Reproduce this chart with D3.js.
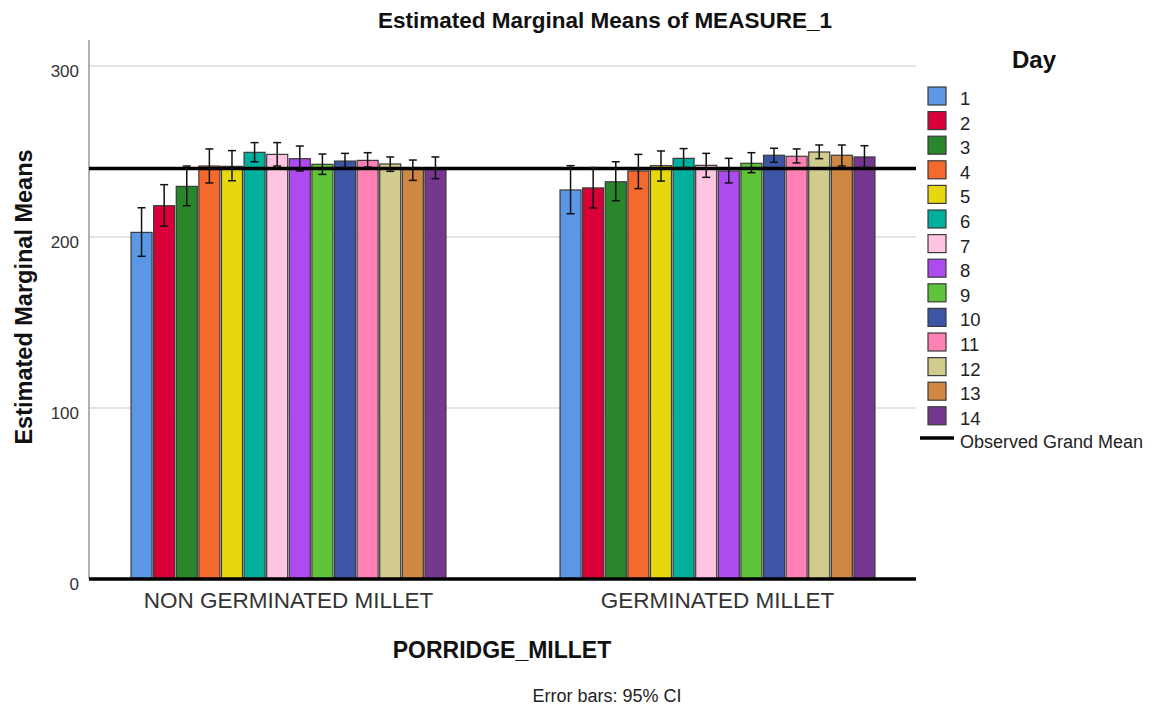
<!DOCTYPE html>
<html>
<head>
<meta charset="utf-8">
<script src="https://cdn.jsdelivr.net/npm/d3@7"></script>
<style>
  html, body { margin: 0; padding: 0; background: #fff; }
  svg { display: block; font-family: "Liberation Sans", Arial, sans-serif; }
</style>
</head>
<body>
<svg id="chart" width="1160" height="708"></svg>
<script>
// Estimated marginal means of MEASURE_1 by porridge type and day, with 95% CI
const groups = ["NON GERMINATED MILLET", "GERMINATED MILLET"];
const days = ["1","2","3","4","5","6","7","8","9","10","11","12","13","14"];
const dayColors = ["#5b97e4","#d9003a","#2a862b","#f46a2c","#e6d70f","#00b09d","#ffc4e1","#ad4af0",
                   "#60c43a","#3c56a5","#ff80b2","#d2cb8e","#cf8843","#76388e"];

const meansNonGerm = [202.7, 218.3, 229.6, 241.5, 241.3, 249.5, 248.3, 245.8, 242.5, 244.4, 244.8, 242.7, 239.6, 239.8];
const lowerNonGerm = [188.7, 206.4, 218.3, 231.6, 232.9, 244.0, 241.5, 238.6, 236.6, 240.7, 240.9, 238.4, 233.1, 234.1];
const upperNonGerm = [217.1, 230.6, 241.5, 251.5, 250.5, 255.2, 255.2, 253.2, 248.5, 248.9, 249.3, 246.8, 245.0, 246.8];

const meansGerm = [227.5, 228.7, 232.3, 238.6, 241.7, 246.0, 241.9, 238.6, 243.1, 247.8, 247.2, 249.7, 247.8, 246.8];
const lowerGerm = [213.6, 217.0, 221.2, 228.3, 232.7, 240.6, 234.9, 231.6, 237.6, 243.7, 243.3, 245.8, 241.5, 240.7];
const upperGerm = [241.7, 240.6, 244.0, 248.3, 250.3, 251.7, 248.9, 246.0, 249.3, 251.9, 251.5, 253.8, 253.8, 253.4];

const grandMean = 240.0;
const yTicks = [0, 100, 200, 300];

const meansByGroup = [meansNonGerm, meansGerm];
const lowerByGroup = [lowerNonGerm, lowerGerm];
const upperByGroup = [upperNonGerm, upperGerm];

const rows = [];
groups.forEach((g, gi) => days.forEach((d, di) => rows.push({
  group: g, day: d, color: dayColors[di],
  mean: meansByGroup[gi][di], lo: lowerByGroup[gi][di], hi: upperByGroup[gi][di]
})));

const svg = d3.select("#chart");
const plotLeft = 89, plotRight = 916, plotTop = 40, plotBottom = 579;
const FONT = "'Liberation Sans', Arial, sans-serif";

const y = d3.scaleLinear().domain([0, 315.2]).range([plotBottom, plotTop]);
const x0 = d3.scaleBand().domain(groups).range([74, 932]).paddingInner(0).paddingOuter(0);
const innerW = 316.5;
const x1 = d3.scaleBand().domain(days).range([0, innerW]).paddingInner(0.07).paddingOuter(0.035);
const groupStart = g => x0(g) + (x0.bandwidth() - innerW) / 2;

// grid lines
svg.append("g").selectAll("line").data(yTicks.filter(t => t > 0)).join("line")
  .attr("x1", plotLeft).attr("x2", plotRight)
  .attr("y1", d => y(d)).attr("y2", d => y(d))
  .attr("stroke", "#c8c8c8").attr("stroke-width", 1);

// y axis
const yAxis = d3.axisLeft(y).tickValues(yTicks).tickSize(0).tickPadding(10);
const ya = svg.append("g").attr("transform", `translate(${plotLeft},0)`).call(yAxis);
ya.select(".domain").remove();
ya.selectAll("text").attr("font-size", 17).attr("fill", "#333").attr("dy", "0.62em")
  .attr("font-family", FONT);
svg.append("line").attr("x1", plotLeft).attr("x2", plotLeft)
  .attr("y1", plotTop).attr("y2", plotBottom).attr("stroke", "#999").attr("stroke-width", 1.5);

// bars
svg.append("g").selectAll("rect").data(rows).join("rect")
  .attr("x", d => groupStart(d.group) + x1(d.day))
  .attr("width", x1.bandwidth())
  .attr("y", d => y(d.mean))
  .attr("height", d => y(0) - y(d.mean))
  .attr("fill", d => d.color)
  .attr("stroke", "#3a3a3a").attr("stroke-width", 1.2);

// grand mean and zero line
svg.append("line").attr("x1", plotLeft).attr("x2", plotRight)
  .attr("y1", y(grandMean)).attr("y2", y(grandMean))
  .attr("stroke", "#000").attr("stroke-width", 3.5);
svg.append("line").attr("x1", plotLeft).attr("x2", plotRight)
  .attr("y1", y(0)).attr("y2", y(0))
  .attr("stroke", "#000").attr("stroke-width", 3.5);

// error bars
const eb = svg.append("g").attr("stroke", "#111").attr("stroke-width", 1.5);
const cx = d => groupStart(d.group) + x1(d.day) + x1.bandwidth() / 2;
eb.selectAll("line.v").data(rows).join("line").attr("class", "v")
  .attr("x1", cx).attr("x2", cx).attr("y1", d => y(d.lo)).attr("y2", d => y(d.hi));
eb.selectAll("line.t").data(rows).join("line").attr("class", "t")
  .attr("x1", d => cx(d) - 4).attr("x2", d => cx(d) + 4).attr("y1", d => y(d.hi)).attr("y2", d => y(d.hi));
eb.selectAll("line.b").data(rows).join("line").attr("class", "b")
  .attr("x1", d => cx(d) - 4).attr("x2", d => cx(d) + 4).attr("y1", d => y(d.lo)).attr("y2", d => y(d.lo));

// x category labels
const xAxis = d3.axisBottom(x0).tickSize(0).tickPadding(13);
const xa = svg.append("g").attr("transform", `translate(0,${plotBottom})`).call(xAxis);
xa.select(".domain").remove();
xa.selectAll("text").attr("font-size", 22.5).attr("fill", "#333")
  .attr("font-family", FONT);

// titles
svg.append("text").attr("x", 605).attr("y", 27.5).attr("text-anchor", "middle")
  .attr("font-size", 22.5).attr("font-weight", "bold").attr("fill", "#111")
  .text("Estimated Marginal Means of MEASURE_1");
svg.append("text").attr("transform", "translate(32,297) rotate(-90)").attr("text-anchor", "middle")
  .attr("font-size", 23.5).attr("font-weight", "bold").attr("fill", "#111")
  .text("Estimated Marginal Means");
svg.append("text").attr("x", 502).attr("y", 658).attr("text-anchor", "middle")
  .attr("font-size", 23).attr("font-weight", "bold").attr("fill", "#111")
  .text("PORRIDGE_MILLET");
svg.append("text").attr("x", 607).attr("y", 702).attr("text-anchor", "middle")
  .attr("font-size", 18).attr("fill", "#222")
  .text("Error bars: 95% CI");

// legend
const lg = svg.append("g");
lg.append("text").attr("x", 1034).attr("y", 68).attr("text-anchor", "middle")
  .attr("font-size", 24).attr("font-weight", "bold").attr("fill", "#111").text("Day");
const rowH = 24.6, legTop = 87;
const items = lg.selectAll("g.item").data(days).join("g").attr("class", "item")
  .attr("transform", (d, i) => `translate(928,${legTop + i * rowH})`);
items.append("rect").attr("width", 18).attr("height", 18)
  .attr("fill", (d, i) => dayColors[i]).attr("stroke", "#3a3a3a").attr("stroke-width", 1.2);
items.append("text").attr("x", 32).attr("y", 18).attr("font-size", 18.5).attr("fill", "#222").text(d => d);
const gmY = 438;
lg.append("line").attr("x1", 920).attr("x2", 954).attr("y1", gmY).attr("y2", gmY)
  .attr("stroke", "#000").attr("stroke-width", 3.5);
lg.append("text").attr("x", 960).attr("y", gmY + 10).attr("font-size", 18).attr("fill", "#222")
  .text("Observed Grand Mean");
</script>
</body>
</html>
